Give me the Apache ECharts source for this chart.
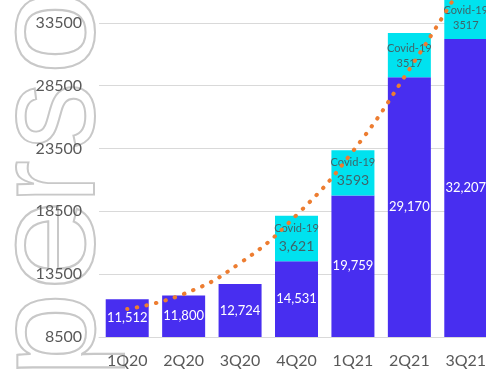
<!DOCTYPE html>
<html>
<head>
<meta charset="utf-8">
<script src="https://cdn.jsdelivr.net/npm/echarts@6/dist/echarts.min.js"></script>
<style>
  html, body { margin: 0; padding: 0; background: #fff; }
  #chart { width: 486px; height: 369px; }
</style>
</head>
<body>
<div id="chart"></div>
<script>
const quarters = ['1Q20', '2Q20', '3Q20', '4Q20', '1Q21', '2Q21', '3Q21']
const baseValues = [11512, 11800, 12724, 14531, 19759, 29170, 32207]
const covidValues = [0, 0, 0, 3621, 3593, 3517, 3517]
const covidLabels = ['', '', '', '3,621', '3593', '3517', '3517']
// dotted trend line, read at each quarter
const trendValues = [10730, 11920, 14380, 18200, 23290, 29800, 37000]

const chart = echarts.init(document.getElementById('chart'))

// outlined watermark letters, rotated so they read bottom to top
function watermarkLetter(ch, y, sx) {
  return {
    type: 'text',
    silent: true,
    z: -10,
    x: 54,
    y: y,
    rotation: Math.PI / 2,
    scaleX: sx,
    style: {
      text: ch,
      fontSize: 145,
      fontFamily: 'Liberation Sans',
      fill: 'rgba(255,255,255,0)',
      stroke: '#c8c8c8',
      lineWidth: 2,
      align: 'center',
      verticalAlign: 'middle'
    }
  }
}

const option = {
  backgroundColor: '#fff',
  animation: false,
  grid: {
    left: 99,
    right: -8,
    top: -40,
    bottom: 32,
    outerBoundsMode: 'none',
    containLabel: false
  },
  graphic: [
    watermarkLetter('p', 335, 1.06),
    watermarkLetter('e', 245, 1.14),
    watermarkLetter('r', 182, 0.9),
    watermarkLetter('s', 116, 0.93),
    watermarkLetter('o', 32, 1.06)
  ],
  xAxis: {
    type: 'category',
    data: quarters,
    axisTick: { show: false },
    axisLine: { lineStyle: { color: '#d9d9d9', width: 1 } },
    axisLabel: {
      color: '#595959',
      fontSize: 16,
      fontFamily: 'Lato',
      margin: 16
    }
  },
  yAxis: {
    type: 'value',
    min: 8500,
    max: 38500,
    interval: 5000,
    axisLine: { show: false },
    axisTick: { show: false },
    axisLabel: {
      color: '#595959',
      fontSize: 16,
      fontFamily: 'Lato',
      margin: 17,
      formatter: v => String(v)
    },
    splitLine: { lineStyle: { color: '#d9d9d9', width: 1 } }
  },
  series: [
    {
      name: 'base',
      type: 'bar',
      stack: 'total',
      barWidth: 43,
      data: baseValues,
      itemStyle: { color: '#482ef0' },
      label: {
        show: true,
        position: 'inside',
        color: '#fff',
        fontSize: 13,
        fontFamily: 'Lato',
        formatter: p => p.value.toLocaleString('en-US')
      }
    },
    {
      name: 'Covid-19',
      type: 'bar',
      stack: 'total',
      barWidth: 43,
      data: covidValues,
      itemStyle: { color: '#00e2ef' },
      label: {
        show: true,
        position: 'inside',
        fontFamily: 'Lato',
        formatter: p => {
          if (!p.value) return ''
          const key = p.dataIndex >= 5 ? 's' : 'v'
          return '{t|Covid-19}\n{' + key + '|' + covidLabels[p.dataIndex] + '}'
        },
        rich: {
          t: { fontSize: 11, color: '#3f6469', lineHeight: 16, fontFamily: 'Lato' },
          v: { fontSize: 14, color: '#3f6469', lineHeight: 20, fontFamily: 'Lato' },
          s: { fontSize: 11, color: '#3f6469', lineHeight: 14, fontFamily: 'Lato' }
        }
      }
    },
    {
      name: 'trend',
      type: 'line',
      z: 10,
      smooth: true,
      showSymbol: false,
      data: trendValues,
      lineStyle: {
        color: '#ed7d31',
        width: 4,
        type: [0.5, 9.3],
        cap: 'round'
      }
    }
  ]
}

chart.setOption(option)
</script>
</body>
</html>
